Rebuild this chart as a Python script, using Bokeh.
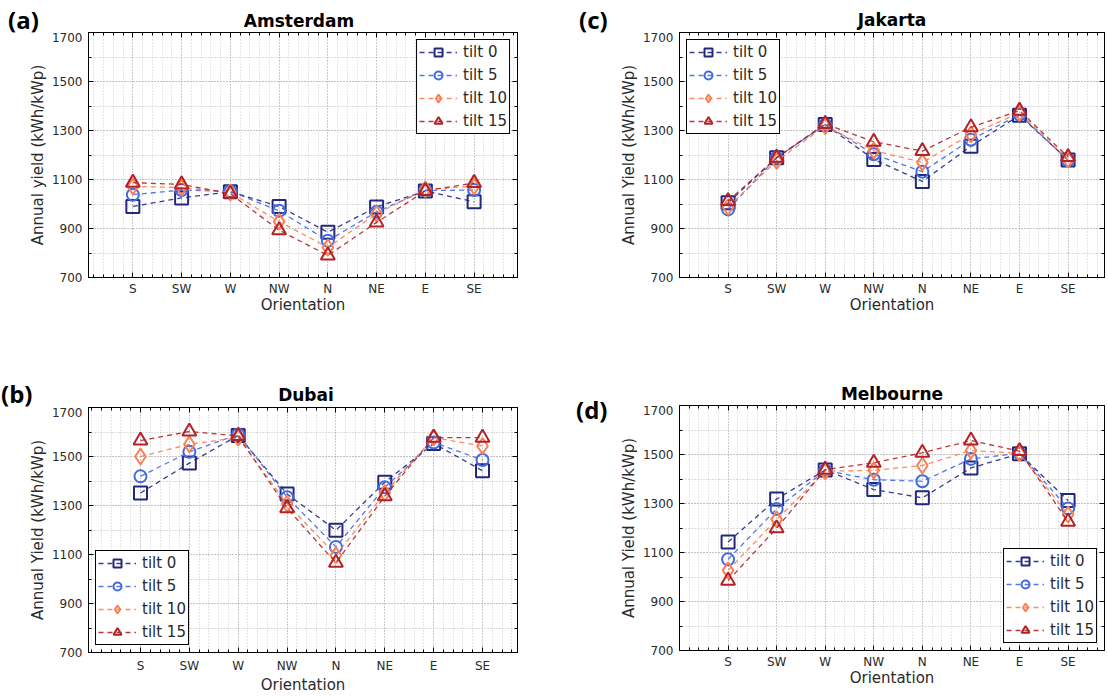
import numpy as np
from bokeh.plotting import figure
from bokeh.models import FixedTicker, LinearAxis, Legend, LegendItem, Range1d, Div
from bokeh.layouts import row, column
from bokeh.embed import file_html
from bokeh.resources import INLINE

# ---------------- data ----------------
orientations = ["S", "SW", "W", "NW", "N", "NE", "E", "SE"]
tilt_labels = ["tilt 0", "tilt 5", "tilt 10", "tilt 15"]

amsterdam_t0 = [990, 1025, 1050, 990, 885, 988, 1053, 1009]
amsterdam_t5 = [1038, 1057, 1052, 972, 850, 968, 1055, 1057]
amsterdam_t10 = [1072, 1067, 1047, 928, 823, 960, 1060, 1072]
amsterdam_t15 = [1087, 1080, 1042, 893, 790, 925, 1053, 1086]

jakarta_t0 = [1005, 1189, 1324, 1182, 1092, 1236, 1362, 1180]
jakarta_t5 = [978, 1189, 1324, 1203, 1132, 1262, 1365, 1178]
jakarta_t10 = [988, 1176, 1318, 1218, 1170, 1284, 1372, 1182]
jakarta_t15 = [1012, 1189, 1327, 1254, 1216, 1313, 1381, 1192]

dubai_t0 = [1351, 1473, 1586, 1347, 1199, 1395, 1553, 1442]
dubai_t5 = [1419, 1519, 1590, 1334, 1131, 1374, 1557, 1486]
dubai_t10 = [1500, 1550, 1577, 1307, 1097, 1351, 1577, 1543]
dubai_t15 = [1565, 1602, 1584, 1289, 1066, 1338, 1577, 1577]

melbourne_t0 = [1143, 1318, 1437, 1357, 1323, 1445, 1503, 1312]
melbourne_t5 = [1072, 1278, 1435, 1397, 1391, 1482, 1505, 1280]
melbourne_t10 = [1027, 1235, 1432, 1435, 1455, 1516, 1505, 1255]
melbourne_t15 = [985, 1199, 1438, 1466, 1507, 1557, 1514, 1226]

y_major = [700, 900, 1100, 1300, 1500, 1700]
y_minor = [700, 800, 900, 1000, 1100, 1200, 1300, 1400, 1500, 1600, 1700]

# ---------------- styles ----------------
colors = ["#23287c", "#4169e1", "#fb7f52", "#b22226"]
markers = ["square", "circle", "diamond", "triangle"]
msizes = [13, 12, 16, 14]
FONT = "DejaVu Sans"
TAGFONT = "Open Sans"


def style_axis(ax, hidden_labels=False):
    ax.axis_line_color = "black"
    ax.axis_line_width = 1
    ax.major_tick_in = 5
    ax.major_tick_out = 0
    ax.minor_tick_in = 3
    ax.minor_tick_out = 0
    ax.major_tick_line_color = "black"
    ax.minor_tick_line_color = "black"
    ax.major_label_text_font = FONT
    ax.major_label_text_font_size = "12px"
    ax.major_label_text_color = "#2a2a2a"
    ax.axis_label_text_font = FONT
    ax.axis_label_text_font_size = "15px"
    ax.axis_label_text_font_style = "normal"
    ax.axis_label_text_color = "#2a2a2a"
    if hidden_labels:
        ax.major_label_text_color = None
        ax.major_label_text_font_size = "0px"
        ax.major_label_standoff = 0


def make_panel(series, ylabel, fw, fh, x0, x1, bl, br, bb, legend_loc,
               xlab_standoff=4, xaxis_standoff=-3):
    p = figure(frame_width=fw, frame_height=fh,
               x_range=Range1d(x0, x1), y_range=Range1d(700, 1700),
               output_backend="svg", toolbar_location=None,
               min_border_left=bl, min_border_top=0,
               min_border_right=br, min_border_bottom=bb,
               background_fill_color="white", border_fill_color="white")
    p.outline_line_color = "black"
    p.outline_line_width = 1

    xt = FixedTicker(ticks=list(range(len(orientations))),
                     minor_ticks=[round(v, 1) for v in np.arange(-1.2, 8.01, 0.2)])
    yt = FixedTicker(ticks=y_major, minor_ticks=y_minor)

    bottom = p.below[0]
    left = p.left[0]
    bottom.ticker = xt
    left.ticker = yt
    bottom.major_label_overrides = {i: o for i, o in enumerate(orientations)}
    bottom.axis_label = "Orientation"
    left.axis_label = ylabel
    style_axis(bottom)
    style_axis(left)
    bottom.major_label_standoff = xlab_standoff
    bottom.axis_label_standoff = xaxis_standoff
    left.major_label_standoff = 6
    left.axis_label_standoff = 2

    top = LinearAxis(ticker=xt)
    right = LinearAxis(ticker=yt)
    style_axis(top, True)
    style_axis(right, True)
    p.add_layout(top, "above")
    p.add_layout(right, "right")

    for g in (p.xgrid[0], p.ygrid[0]):
        g.grid_line_color = "#a8a8a8"
        g.grid_line_dash = "1 2"
        g.grid_line_width = 1
        g.minor_grid_line_color = "#cfcfcf"
        g.minor_grid_line_dash = "1 2"
        g.minor_grid_line_width = 1
    p.ygrid[0].minor_grid_line_color = "#b8b8b8"

    xs = list(range(len(orientations)))
    items = []
    for i, ys in enumerate(series):
        lr = p.line(xs, ys, line_color=colors[i], line_width=1.3,
                    line_dash="5 4", line_alpha=0.9)
        sr = p.scatter(xs, ys, marker=markers[i], size=msizes[i],
                       fill_color=None, line_color=colors[i], line_width=2)
        items.append(LegendItem(label=tilt_labels[i], renderers=[lr, sr]))

    leg = Legend(items=items, location=legend_loc)
    leg.border_line_color = "black"
    leg.border_line_width = 1
    leg.border_line_alpha = 1
    leg.background_fill_color = "white"
    leg.background_fill_alpha = 1
    leg.label_text_font = FONT
    leg.label_text_font_size = "15px"
    leg.label_text_color = "#2a2a2a"
    leg.glyph_width = 38
    leg.glyph_height = 20
    leg.spacing = 3
    leg.padding = 2
    leg.margin = 7
    leg.label_standoff = 6
    p.add_layout(leg)
    return p


def span(text, x, y, font, size, center):
    tx = "-50%" if center else "0"
    return ('<span style="position:absolute;left:%spx;top:%spx;transform:translate(%s,-50%%);'
            'font-family:\'%s\';font-size:%dpx;font-weight:bold;line-height:1;'
            'white-space:nowrap;color:#000;">%s</span>' % (x, y, tx, font, size, text))


def header(w, h, titles=(), tags=()):
    inner = "".join(span(t, x, y, FONT, 17, True) for t, x, y in titles)
    inner += "".join(span(t, x, y, TAGFONT, 24, False) for t, x, y in tags)
    html = '<div style="position:relative;width:%dpx;height:%dpx;">%s</div>' % (w, h, inner)
    return Div(text=html, width=w, height=h, margin=0)


# Left column (page x 0..548): frames at x 88..517
fa = make_panel([amsterdam_t0, amsterdam_t5, amsterdam_t10, amsterdam_t15],
                "Annual yield (kWh/kWp)", 429, 245, -0.91, 7.89, 88, 31, 90, "top_right")
fb = make_panel([dubai_t0, dubai_t5, dubai_t10, dubai_t15],
                "Annual Yield (kWh/kWp)", 429, 245, -1.064, 7.716, 88, 31, 42, "bottom_left",
                xlab_standoff=6, xaxis_standoff=0)
# Right column (page x 548..1107): frames at x 679..1104
fc = make_panel([jakarta_t0, jakarta_t5, jakarta_t10, jakarta_t15],
                "Annual Yield (kWh/kWp)", 425, 245, -1.0, 7.75, 131, 3, 90, "top_left")
fd = make_panel([melbourne_t0, melbourne_t5, melbourne_t10, melbourne_t15],
                "Annual Yield (kWh/kWp)", 425, 245, -1.0, 7.75, 69, 3, 44, "bottom_right")

ha = header(548, 32, [("Amsterdam", 299, 21)], [("(a)", 8, 20)])
hb = header(548, 40, [("Dubai", 306, 28)], [("(b)", 1, 27)])
hc = header(559, 32, [("Jakarta", 344, 20)], [("(c)", 31, 20)])
hd = header(497, 38, [("Melbourne", 282, 27)], [])
td = header(62, 327, [], [("(d)", 28, 43)])

left_col = column(ha, fa, hb, fb)
right_col = column(hc, fc, row(td, column(hd, fd)))
layout = row(left_col, right_col)

open("out.html", "w").write(file_html(layout, INLINE))
